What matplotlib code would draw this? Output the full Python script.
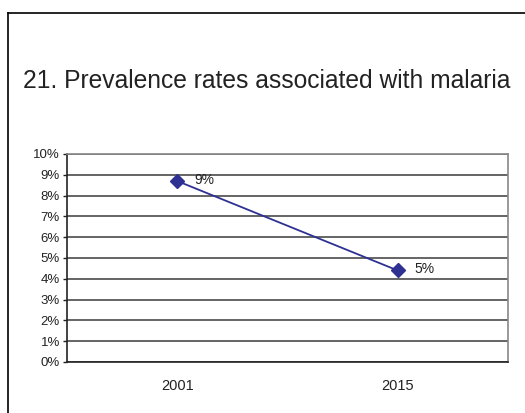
import matplotlib

matplotlib.use("Agg")
import matplotlib.pyplot as plt
from matplotlib.lines import Line2D
from matplotlib.ticker import FuncFormatter, MultipleLocator

# chart data
years = ["2001", "2015"]
prevalence = [0.087, 0.044]
point_labels = ["9%", "5%"]

TITLE = "21. Prevalence rates associated with malaria"
LINE_COLOR = "#2e3192"

W, H = 525, 413

plt.rcParams["font.family"] = ["Liberation Sans", "DejaVu Sans"]

fig = plt.figure(figsize=(W / 100, H / 100), dpi=100)
fig.patch.set_facecolor("white")

# outer chart frame (runs off the right and bottom edges)
fig.add_artist(Line2D([8 / W, 8 / W], [0, 1 - 13 / H], color="black", lw=1.2))
fig.add_artist(Line2D([8 / W, 1.0], [1 - 13 / H, 1 - 13 / H], color="black", lw=1.2))

fig.text(23 / W, 1 - 81 / H, TITLE, fontsize=17.7, color="#222222",
         va="center", ha="left")

left, right, top, bottom = 67, 508, 154, 362
ax = fig.add_axes([left / W, 1 - bottom / H, (right - left) / W, (bottom - top) / H])

x = list(range(len(years)))
ax.plot(x, prevalence, color=LINE_COLOR, lw=1.3, marker="D", markersize=7,
        markerfacecolor=LINE_COLOR, markeredgecolor=LINE_COLOR, zorder=3)
for xi, yi, lab in zip(x, prevalence, point_labels):
    ax.annotate(lab, (xi, yi), xytext=(12, 1), textcoords="offset points",
                fontsize=10, color="#222222", va="center", ha="left")

ax.set_xlim(-0.5, 1.5)
ax.set_ylim(0, 0.10)
ax.yaxis.set_major_locator(MultipleLocator(0.01))
ax.yaxis.set_major_formatter(FuncFormatter(lambda v, _: f"{round(v * 100)}%"))
ax.set_xticks(x)
ax.set_xticklabels(years)

ax.grid(axis="y", color="#3a3a3a", lw=1.1)
ax.set_axisbelow(True)

for side in ["top", "right"]:
    ax.spines[side].set_color("#888888")
    ax.spines[side].set_linewidth(1.2)
ax.spines["left"].set_color("#222222")
ax.spines["bottom"].set_color("#222222")
ax.spines["left"].set_linewidth(1.2)
ax.spines["bottom"].set_linewidth(1.2)

ax.tick_params(axis="y", length=3, width=1, color="#222222", labelsize=9.5,
               labelcolor="#222222", pad=2)
ax.tick_params(axis="x", length=0, labelsize=10.5, labelcolor="#222222", pad=12)

fig.savefig("out.png", dpi=100)
